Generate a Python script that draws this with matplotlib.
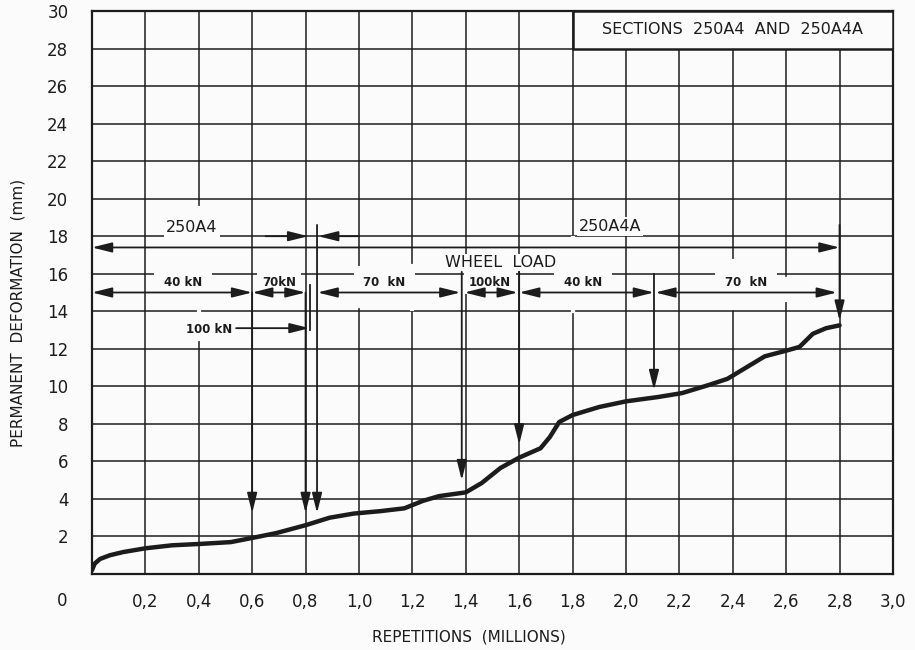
import matplotlib
matplotlib.use("Agg")
import matplotlib.pyplot as plt
from matplotlib.patches import Rectangle

# curve
reps = [0.0, 0.01, 0.03, 0.067, 0.117, 0.2, 0.3, 0.4, 0.52, 0.61, 0.69, 0.8, 0.89,
        0.98, 1.08, 1.17, 1.24, 1.30, 1.40, 1.46, 1.53, 1.60, 1.68, 1.715, 1.75,
        1.80, 1.90, 2.0, 2.12, 2.21, 2.31, 2.38, 2.45, 2.52, 2.6, 2.65, 2.7, 2.75, 2.8]
deform = [0.2, 0.55, 0.8, 1.0, 1.17, 1.37, 1.53, 1.6, 1.7, 1.95, 2.18, 2.6, 3.0,
          3.22, 3.35, 3.5, 3.9, 4.15, 4.35, 4.85, 5.65, 6.2, 6.7, 7.3, 8.1,
          8.47, 8.9, 9.2, 9.43, 9.64, 10.07, 10.4, 11.0, 11.6, 11.9, 12.1, 12.8, 13.1, 13.25]

# wheel load periods
load_start = [0.0, 0.6, 0.845, 1.395, 1.6, 2.11]
load_end = [0.6, 0.8, 1.38, 1.595, 2.105, 2.79]
load_labels = ["40 kN", "70kN", "70  kN", "100kN", "40 kN", "70  kN"]
load_label_x = [0.34, 0.70, 1.095, 1.49, 1.84, 2.45]

# load change markers: x, top of line, arrow tip
change_x = [0.6, 0.8, 0.843, 1.385, 1.6, 2.105, 2.8]
change_top = [15.0, 15.0, 18.6, 16.1, 16.1, 16.0, 18.6]
change_tip = [3.25, 3.25, 3.25, 5.0, 6.9, 9.8, 13.5]

xticks = [0.2, 0.4, 0.6, 0.8, 1.0, 1.2, 1.4, 1.6, 1.8, 2.0, 2.2, 2.4, 2.6, 2.8, 3.0]
yticks = list(range(2, 31, 2))

ink = "#1c1c1c"
bg = "#fbfbfb"
plt.rcParams["font.family"] = "DejaVu Sans"

fig = plt.figure(figsize=(9.15, 6.5), dpi=100, facecolor=bg)
ax = fig.add_axes([0.1005, 0.1169, 0.8754, 0.8662], facecolor=bg)
ax.set_xlim(0, 3.0)
ax.set_ylim(0, 30)

ax.set_xticks(xticks)
ax.set_xticklabels([f"{v:.1f}".replace(".", ",") for v in xticks])
ax.set_yticks(yticks)
ax.set_yticklabels([str(v) for v in yticks])
ax.tick_params(axis="x", length=0, pad=14, labelsize=12, colors=ink)
ax.tick_params(axis="y", length=0, pad=17, labelsize=12, colors=ink)
ax.grid(True, color=ink, lw=1.1)
ax.set_axisbelow(True)
for s in ax.spines.values():
    s.set_color(ink)
    s.set_linewidth(1.6)

ax.text(-0.037, -0.048, "0", transform=ax.transAxes, ha="center", va="center",
        fontsize=12, color=ink)
fig.text(18 / 915, 1 - 313 / 650, "PERMANENT  DEFORMATION  (mm)", rotation=90,
         ha="center", va="center", fontsize=11, color=ink)
fig.text(469 / 915, 1 - 637 / 650, "REPETITIONS  (MILLIONS)", ha="center",
         va="center", fontsize=11, color=ink)

# gridline bits rubbed out around the lettering
for gx, y0, y1 in [(0.4, 12.5, 19.5), (1.0, 14.3, 16.3), (1.2, 14.1, 16.4),
                   (1.8, 14.0, 17.9), (2.4, 14.2, 16.7), (2.6, 14.6, 15.7)]:
    ax.plot([gx, gx], [y0, y1], color=bg, lw=3, zorder=1)

arrow = dict(arrowstyle="-|>,head_length=1.0,head_width=0.25", color=ink,
             lw=1.3, shrinkA=0, shrinkB=0, mutation_scale=12)
darrow = dict(arrow, arrowstyle="<|-|>,head_length=1.0,head_width=0.25")

# section split on the 18 line
ax.annotate("", xy=(0.81, 18), xytext=(0.65, 18), arrowprops=arrow, zorder=5)
ax.annotate("", xy=(0.847, 18), xytext=(1.0, 18), arrowprops=arrow, zorder=5)
ax.text(0.375, 18.45, "250A4", ha="center", va="center", fontsize=11.5, color=ink,
        zorder=3, bbox=dict(fc=bg, ec="none", pad=1.5))
ax.text(1.94, 18.5, "250A4A", ha="center", va="center", fontsize=11.5, color=ink,
        zorder=3, bbox=dict(fc=bg, ec="none", pad=1.5))

# wheel load span
ax.annotate("", xy=(0.0, 17.4), xytext=(2.8, 17.4), arrowprops=darrow, zorder=5)
ax.text(1.53, 16.6, "WHEEL  LOAD", ha="center", va="center", fontsize=11.5,
        color=ink, zorder=3, bbox=dict(fc=bg, ec="none", pad=1))

for x0, x1, lab, lx in zip(load_start, load_end, load_labels, load_label_x):
    ax.annotate("", xy=(x0, 15.0), xytext=(x1, 15.0), arrowprops=darrow, zorder=5)
    pad = 3.5 if x1 - x0 < 0.3 else 7
    ax.text(lx, 15.55, lab, ha="center", va="center", fontsize=8.5,
            fontweight="bold", color=ink, zorder=3,
            bbox=dict(fc=bg, ec="none", pad=pad))

for cx, top, tip in zip(change_x, change_top, change_tip):
    ax.annotate("", xy=(cx, tip), xytext=(cx, top), arrowprops=arrow, zorder=5)

# 100 kN marker
ax.plot([0.815, 0.815], [15.4, 13.0], color=ink, lw=1.3, zorder=5)
ax.annotate("", xy=(0.815, 13.1), xytext=(0.54, 13.1), arrowprops=arrow, zorder=5)
ax.text(0.44, 13.05, "100 kN", ha="center", va="center", fontsize=8.5,
        fontweight="bold", color=ink, zorder=3, bbox=dict(fc=bg, ec="none", pad=2))

# title box
ax.add_patch(Rectangle((1.8, 28), 1.2, 2, fc=bg, ec=ink, lw=1.8, zorder=4))
ax.text(2.4, 29, "SECTIONS  250A4  AND  250A4A", ha="center", va="center",
        fontsize=11.5, color=ink, zorder=5)

ax.plot(reps, deform, color=ink, lw=3.2, solid_capstyle="round",
        solid_joinstyle="round", zorder=6)

fig.savefig("out.png", dpi=100, facecolor=bg)
